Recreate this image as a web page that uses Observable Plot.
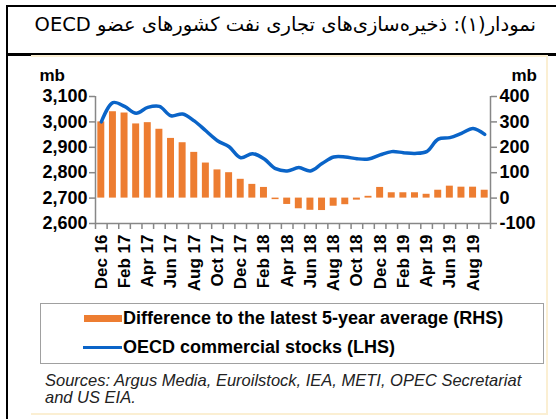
<!DOCTYPE html>
<html>
<head>
<meta charset="utf-8">
<script src="https://cdn.jsdelivr.net/npm/d3@7"></script>
<script src="https://cdn.jsdelivr.net/npm/@observablehq/plot@0.6"></script>
<style>
  html, body { margin: 0; padding: 0; background: #fff; }
  #page { position: relative; width: 556px; height: 419px; overflow: hidden; background: #fff; font-family: "Liberation Sans", Arial, sans-serif; }
  #leftbar { position: absolute; left: 6px; top: 5px; width: 2px; height: 414px; background: #000; }
  #titlebox { position: absolute; left: 6px; top: 5px; width: 550px; height: 46px; border-top: 2px solid #000; border-bottom: 3px solid #000; }
  #title { position: absolute; right: 20px; top: 13px; direction: rtl; text-align: right; white-space: nowrap; font-family: "DejaVu Sans", sans-serif; font-size: 19.5px; color: #000; }
  #frame { position: absolute; left: 31px; top: 55px; width: 515px; height: 356px; border: 2px solid #FBEFD3; border-left: none; }
  #chart { position: absolute; left: 0; top: 55px; }
  #legend { position: absolute; left: 40px; top: 303px; width: 504px; height: 61px; border: 1px solid #A0A0A0; box-sizing: border-box; }
  .lg { position: absolute; font-weight: bold; font-size: 18px; line-height: 21px; color: #000; white-space: nowrap; }
  #sw1 { position: absolute; left: 43px; top: 11px; width: 38px; height: 7px; background: #ED7D31; }
  #sw2 { position: absolute; left: 42px; top: 42px; width: 39px; height: 3px; background: #0A64C8; }
  #sources { position: absolute; left: 45px; top: 372px; font-style: italic; font-size: 16.5px; line-height: 17px; color: #222; white-space: nowrap; }
</style>
</head>
<body>
<div id="page">
  <div id="titlebox"></div>
  <div id="leftbar"></div>
  <div id="title" dir="rtl">نمودار(۱): ذخیره‌سازی‌های تجاری نفت کشورهای عضو OECD</div>
  <div id="frame"></div>
  <div id="chart"></div>
  <div id="legend">
    <div id="sw1"></div>
    <div class="lg" style="left:82px; top:4px;">Difference to the latest 5-year average (RHS)</div>
    <div id="sw2"></div>
    <div class="lg" style="left:82px; top:33px;">OECD commercial stocks (LHS)</div>
  </div>
  <div id="sources">Sources: Argus Media, Euroilstock, IEA, METI, OPEC Secretariat<br>and US EIA.</div>
</div>
<script>
const months = ["Dec 16","Jan 17","Feb 17","Mar 17","Apr 17","May 17","Jun 17","Jul 17","Aug 17","Sep 17","Oct 17","Nov 17","Dec 17",
  "Jan 18","Feb 18","Mar 18","Apr 18","May 18","Jun 18","Jul 18","Aug 18","Sep 18","Oct 18","Nov 18","Dec 18",
  "Jan 19","Feb 19","Mar 19","Apr 19","May 19","Jun 19","Jul 19","Aug 19","Sep 19"];
// Difference to the latest 5-year average (RHS, mb)
const diffValues = [300, 340, 335, 292, 297, 271, 235, 218, 180, 138, 111, 100, 74,
  54, 42, -6, -25, -42, -48, -49, -32, -26, -8, 7, 42,
  21, 21, 21, 15, 31, 47, 43, 43, 31];
// OECD commercial stocks (LHS, mb)
const stockValues = [3000, 3076, 3061, 3034, 3057, 3061, 3024, 3031, 3004, 2965, 2926, 2902, 2859,
  2875, 2855, 2816, 2807, 2820, 2807, 2836, 2862, 2862, 2855, 2854, 2870,
  2883, 2879, 2876, 2883, 2932, 2938, 2955, 2974, 2951];
const leftTicks = [2600, 2700, 2800, 2900, 3000, 3100];
const rightTicks = [-100, 0, 100, 200, 300, 400];
const labelEvery = 2;

const OFFSET = 2700; // RHS 0 aligns with LHS 2,700
const data = months.map((m, i) => ({i, m, diff: diffValues[i], stock: stockValues[i]}));
const n = months.length;

const axisGray = "#878787";
const chart = Plot.plot({
  width: 556,
  height: 245,
  marginLeft: 95,
  marginRight: 66,
  marginTop: 41,
  marginBottom: 77,
  x: {type: "linear", domain: [0, n], axis: null},
  y: {domain: [2600, 3100], axis: null},
  style: {fontFamily: "'Liberation Sans', Arial, sans-serif", fontWeight: "bold", fontSize: "15px", color: "#000", background: "transparent", overflow: "visible"},
  marks: [
    Plot.rectY(data, {x1: d => d.i + 0.2, x2: d => d.i + 0.8, y1: OFFSET, y2: d => d.diff + OFFSET, fill: "#ED7D31"}),
    Plot.line(data, {x: d => d.i + 0.5, y: "stock", stroke: "#0A64C8", strokeWidth: 3.5, curve: "catmull-rom"}),
    Plot.ruleX([0, n], {stroke: axisGray, strokeWidth: 1.5}),
    Plot.ruleY([2600], {stroke: axisGray, strokeWidth: 1.5}),
    Plot.axisY(leftTicks, {anchor: "left", label: null, tickSize: 6, tickPadding: 2, stroke: axisGray, strokeWidth: 1.5, fill: "#000", fontSize: 18, fontWeight: "bold", tickFormat: d3.format(",")}),
    Plot.axisY(rightTicks.map(v => v + OFFSET), {anchor: "right", label: null, tickSize: 6, tickPadding: 3, stroke: axisGray, strokeWidth: 1.5, fill: "#000", fontSize: 18, fontWeight: "bold", tickFormat: d => String(d - OFFSET)}),
    Plot.axisX(d3.range(0, n + 1), {anchor: "bottom", label: null, tickSize: 6, stroke: axisGray, strokeWidth: 1.5, tickFormat: () => ""}),
    Plot.axisX(d3.range(0, n, labelEvery).map(i => i + 0.5), {anchor: "bottom", label: null, tickSize: 0, tickPadding: 11, tickRotate: -90, fill: "#000", fontSize: 17, fontWeight: "bold", tickFormat: v => months[Math.floor(v)]}),
    Plot.text(["mb"], {frameAnchor: "top-left", dx: -56, dy: -28, textAnchor: "start", fontSize: 17, fontWeight: "bold", fill: "#000"}),
    Plot.text(["mb"], {frameAnchor: "top-right", dx: 21, dy: -28, textAnchor: "start", fontSize: 17, fontWeight: "bold", fill: "#000"})
  ]
});
document.getElementById("chart").appendChild(chart);
</script>
</body>
</html>
